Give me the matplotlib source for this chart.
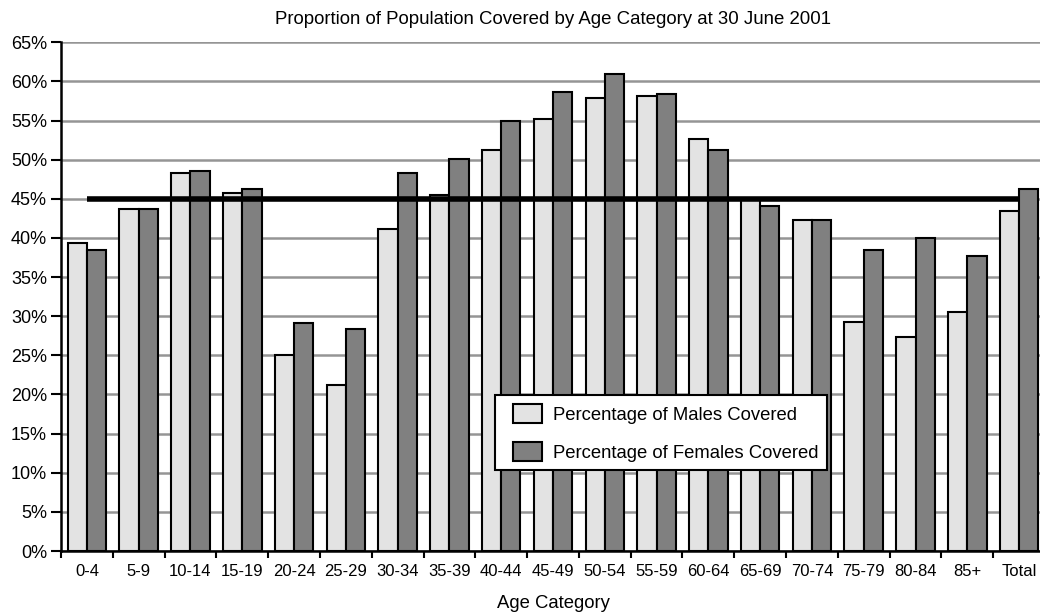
import matplotlib
matplotlib.use("Agg")
import matplotlib.pyplot as plt
from matplotlib.patches import Patch, Rectangle
from matplotlib.legend_handler import HandlerPatch
import numpy as np

categories = ["0-4", "5-9", "10-14", "15-19", "20-24", "25-29", "30-34", "35-39",
              "40-44", "45-49", "50-54", "55-59", "60-64", "65-69", "70-74",
              "75-79", "80-84", "85+", "Total"]
males = [39.4, 43.7, 48.3, 45.75, 25.0, 21.25, 41.1, 45.5, 51.2, 55.2, 57.85,
         58.1, 52.65, 45.0, 42.25, 29.3, 27.35, 30.5, 43.45]
females = [38.5, 43.7, 48.6, 46.3, 29.1, 28.4, 48.3, 50.1, 54.95, 58.7, 61.0,
           58.4, 51.2, 44.05, 42.25, 38.5, 40.0, 37.65, 46.3]
average_level = 45.0
yticks = list(range(0, 70, 5))

plt.rcParams['font.family'] = ['Liberation Sans', 'DejaVu Sans']

fig = plt.figure(figsize=(10.4, 6.15), dpi=100)
ax = fig.add_axes([61 / 1040, 1 - 551 / 615, 984 / 1040, (551 - 42.3) / 615])

x = np.arange(len(categories))
w = 0.372
ax.bar(x - w / 2, males, width=w, color="#e3e3e3", edgecolor="black",
       linewidth=1.5, zorder=2)
ax.bar(x + w / 2, females, width=w, color="#808080", edgecolor="black",
       linewidth=1.5, zorder=2)
ax.plot([x[0], x[-1]], [average_level, average_level], color="black",
        linewidth=4, zorder=3, solid_capstyle="butt")

ax.set_xlim(-0.5, len(categories) - 0.5)
ax.set_ylim(0, 65)
ax.set_yticks(yticks)
ax.set_yticklabels([f"{v}%" for v in yticks])
ax.yaxis.grid(True, color="#959595", linewidth=1.8, zorder=0)
ax.set_axisbelow(True)

ax.set_xticks(np.arange(len(categories) + 1) - 0.5)
ax.set_xticklabels([])
ax.set_xticks(x, minor=True)
ax.set_xticklabels(categories, minor=True)
ax.tick_params(axis="x", which="major", direction="out", length=5, width=1.5)
ax.tick_params(axis="x", which="minor", length=0, pad=9, labelsize=12)
ax.tick_params(axis="y", direction="out", length=7, width=1.5, labelsize=13, pad=3)

for side in ("top", "right"):
    ax.spines[side].set_visible(False)
for side in ("left", "bottom"):
    ax.spines[side].set_linewidth(1.8)

ax.set_xlabel("Age Category", fontsize=13.3, labelpad=12)
ax.set_title("Proportion of Population Covered by Age Category at 30 June 2001",
             fontsize=13.4, pad=13)


def indented_box(legend, orig_handle, xdescent, ydescent, width, height, fontsize):
    # swatch sits at the right end of the handle area, leaving an indent on its left
    box_w = 1.55 * fontsize
    return Rectangle((-xdescent + width - box_w, -ydescent), box_w, height)


handles = [Patch(facecolor="#e3e3e3", edgecolor="black", linewidth=1.5),
           Patch(facecolor="#808080", edgecolor="black", linewidth=1.5)]
leg = ax.legend(handles, ["Percentage of Males Covered", "Percentage of Females Covered"],
                loc="lower left", bbox_to_anchor=((495 - 61) / 984, (551 - 470) / 508.7),
                fontsize=13.3, frameon=True, fancybox=False, edgecolor="black",
                framealpha=1, handlelength=2.1, handleheight=1.2, borderpad=0.45,
                labelspacing=1.0, handletextpad=0.6, borderaxespad=0,
                handler_map={Patch: HandlerPatch(patch_func=indented_box)})
leg.get_frame().set_linewidth(1.5)
leg.set_zorder(5)

fig.savefig("out.png", dpi=100)
